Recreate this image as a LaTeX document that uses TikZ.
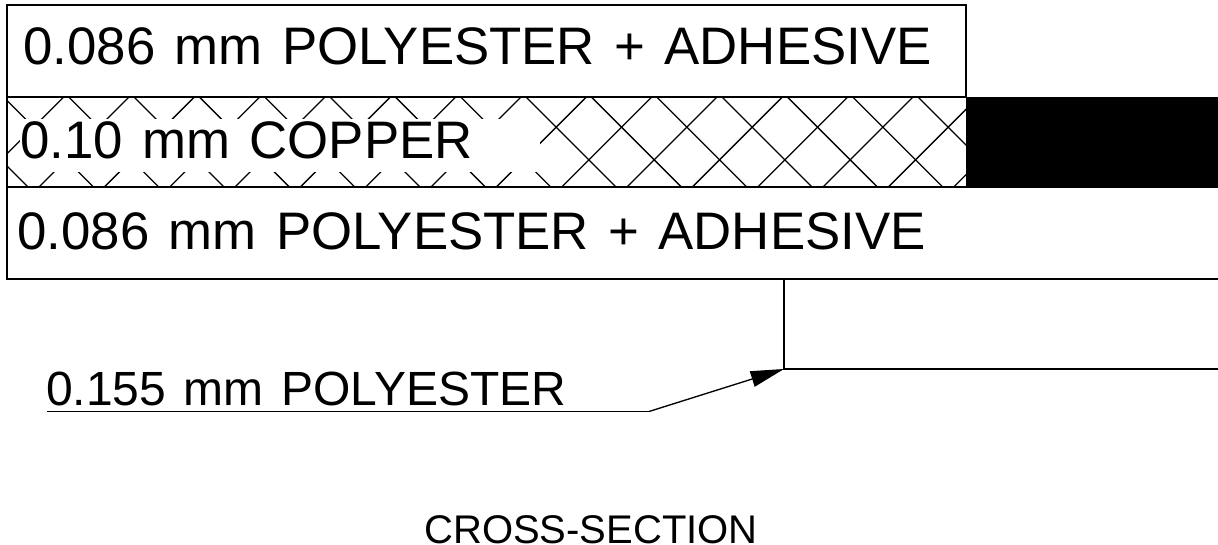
\documentclass[tikz,border=0pt]{standalone}
\usepackage{fontspec}
\setmainfont{Liberation Sans}
\usetikzlibrary{arrows.meta}
\newcommand{\widewords}{\spaceskip=1.32\fontdimen2\font\relax}
\tikzset{
  x=0.75pt,y=-0.75pt,
  rule/.style={draw=black,line width=1.2pt},
  thin rule/.style={draw=black,line width=1.0pt},
  hatchline/.style={draw=black,line width=0.95pt},
  bigtext/.style={anchor=base west,inner sep=0pt,font=\fontsize{39.6pt}{44pt}\selectfont\widewords},
  midtext/.style={anchor=base west,inner sep=0pt,font=\fontsize{36pt}{40pt}\selectfont\widewords},
  smalltext/.style={anchor=base,inner sep=0pt,font=\fontsize{30pt}{34pt}\selectfont},
  leadertip/.style={-{Triangle[length=25pt,width=12pt]}},
}
\begin{document}
\begin{tikzpicture}
\useasboundingbox (0,0) rectangle (1218,545);
\fill[white] (0,0) rectangle (1218,545);
% hatching of the copper layer
\begin{scope}
\clip (7,97) rectangle (966,187);
\foreach \k in {-1,...,16}{
  \pgfmathsetmacro{\xa}{-1.6+65.33*\k}
  \draw[hatchline] (\xa,97) -- ({\xa-90},187);
  \pgfmathsetmacro{\xb}{3.4+65.33*\k}
  \draw[hatchline] (\xb,97) -- ({\xb+90},187);
}
\end{scope}
\fill[white] (20,119) rectangle (540,172);
% layers
\fill[black] (966,97) rectangle (1218,187);
\draw[rule] (7,97) -- (7,5) -- (966,5) -- (966,97);
\draw[rule] (7,97) -- (966,97);
\draw[rule] (7,97) -- (7,279) -- (1218,279);
\draw[rule] (7,187) -- (1218,187);
% texts
\node[bigtext] (top) at (23,65) {0.086 mm POLYESTER + ADHESIVE};
\node[bigtext] (cu) at (20,159) {0.10 mm COPPER};
\node[bigtext] (bot) at (17,250) {0.086 mm POLYESTER + ADHESIVE};
\node[midtext] (lab) at (46,406) {0.155 mm POLYESTER};
\node[smalltext] (title) at (591,543) {CROSS-SECTION};
% leader
\coordinate (drop) at (784,279);
\coordinate (tip) at (784,369);
\coordinate (edge) at (1218,369);
\coordinate (start) at (47,411.5);
\coordinate (knee) at (649,411.5);
\draw[thin rule] (drop) -- (tip) -- (edge);
\draw[thin rule] (start) -- (knee);
\draw[thin rule,leadertip] (knee) -- (tip);
\end{tikzpicture}
\end{document}
